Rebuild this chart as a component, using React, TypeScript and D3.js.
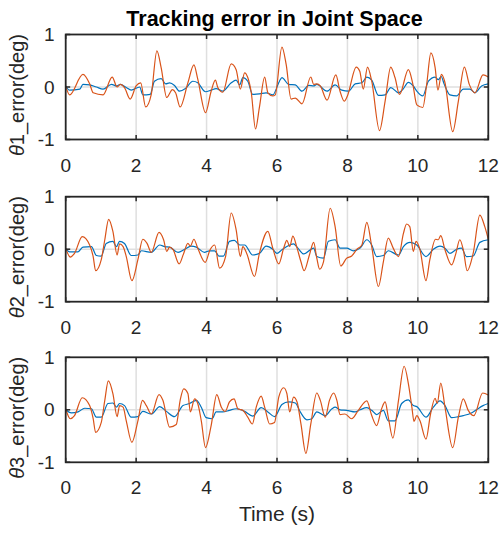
import React from 'react';
import * as d3 from 'd3';

// [time (s), error (deg)]
const joint1Blue: [number, number][] = [
  [0, 0.02], [0.11, -0.06], [0.4, -0.04], [0.49, 0.05], [0.68, 0.04], [0.87, 0.0], [1.06, -0.04],
  [1.3, 0.05], [1.44, 0.02], [1.55, 0.05], [1.72, -0.01], [1.86, -0.06], [2.1, 0.0], [2.19, -0.15],
  [2.4, -0.14], [2.52, 0.11], [2.71, 0.16], [2.84, 0.06], [2.95, 0.08], [3.09, 0.03], [3.23, -0.08],
  [3.4, -0.03], [3.61, 0.11], [3.75, 0.08], [3.97, -0.09], [4.13, -0.06], [4.27, -0.03], [4.46, -0.08],
  [4.7, 0.08], [4.84, 0.13], [4.94, 0.04], [5.03, 0.18], [5.17, 0.11], [5.31, -0.14], [5.5, -0.13],
  [5.69, -0.11], [5.88, -0.15], [6.07, 0.11], [6.14, 0.18], [6.33, 0.05], [6.52, 0.04], [6.71, -0.08],
  [6.9, 0.03], [7.04, 0.02], [7.13, 0.05], [7.42, -0.08], [7.65, 0.04], [7.84, -0.06], [8.03, -0.08],
  [8.22, 0.06], [8.41, 0.08], [8.55, 0.19], [8.69, 0.13], [8.88, -0.16], [9.07, -0.15], [9.23, -0.01],
  [9.45, -0.11], [9.58, -0.04], [9.73, 0.09], [9.87, 0.02], [9.97, -0.08], [10.14, -0.17], [10.3, 0.11],
  [10.49, 0.19], [10.58, 0.14], [10.66, 0.2], [10.75, 0.05], [10.91, -0.15], [11.1, -0.17], [11.29, -0.04],
  [11.48, -0.04], [11.62, -0.11], [11.81, 0.02], [12, 0.06],
];
const joint1Orange: [number, number][] = [
  [0, 0.02], [0.11, -0.15], [0.49, 0.24], [0.68, 0.06], [0.78, -0.11], [1.06, -0.15], [1.32, 0.19],
  [1.46, 0.0], [1.55, 0.05], [1.67, -0.01], [1.83, -0.23], [2.0, 0.02], [2.13, 0.08], [2.27, -0.38],
  [2.43, -0.14], [2.59, 0.69], [2.71, 0.37], [2.87, -0.2], [3.03, -0.05], [3.12, -0.11], [3.25, -0.38],
  [3.47, 0.08], [3.64, 0.42], [3.75, 0.15], [3.97, -0.49], [4.13, -0.08], [4.25, 0.13], [4.32, -0.01],
  [4.46, -0.1], [4.7, 0.44], [4.84, 0.33], [4.96, -0.04], [5.08, 0.27], [5.17, 0.18], [5.27, -0.11],
  [5.39, -0.8], [5.5, -0.39], [5.65, 0.19], [5.74, -0.11], [5.88, -0.17], [5.95, -0.15], [6.14, 0.76],
  [6.26, 0.43], [6.4, -0.23], [6.52, -0.21], [6.71, -0.32], [6.96, 0.19], [7.04, 0.05], [7.13, 0.06],
  [7.23, 0.02], [7.42, -0.25], [7.67, 0.23], [7.79, -0.08], [7.91, -0.27], [8.0, -0.17], [8.25, 0.38],
  [8.35, 0.3], [8.45, -0.04], [8.57, 0.38], [8.69, 0.11], [8.91, -0.83], [9.07, -0.27], [9.23, 0.38],
  [9.35, 0.18], [9.48, -0.14], [9.73, 0.33], [9.85, 0.08], [9.97, -0.34], [10.14, -0.39], [10.25, 0.05],
  [10.37, 0.65], [10.49, 0.37], [10.57, -0.06], [10.67, 0.24], [10.76, 0.11], [10.99, -0.85], [11.15, -0.27],
  [11.32, 0.38], [11.46, 0.05], [11.62, -0.11], [11.85, 0.23], [12, 0.19],
];
const joint2Blue: [number, number][] = [
  [0, 0], [0.11, -0.05], [0.35, -0.05], [0.49, 0.04], [0.73, 0.05], [0.87, -0.12], [1.01, -0.13],
  [1.15, 0.11], [1.34, 0.15], [1.44, 0.05], [1.53, 0.15], [1.67, 0.11], [1.86, -0.12], [2.05, -0.11],
  [2.15, -0.03], [2.43, -0.06], [2.67, 0.08], [2.81, 0.05], [2.95, 0.04], [3.19, -0.06], [3.38, 0.0],
  [3.56, 0.06], [3.71, 0.04], [3.94, -0.06], [4.08, -0.03], [4.23, -0.03], [4.35, -0.13], [4.48, -0.13],
  [4.65, 0.15], [4.79, 0.17], [4.94, 0.08], [5.08, 0.08], [5.31, -0.11], [5.5, -0.08], [5.69, 0.06],
  [5.88, 0.0], [6.0, -0.08], [6.14, -0.01], [6.28, 0.05], [6.47, 0.1], [6.57, 0.04], [6.76, -0.09],
  [7.04, 0.02], [7.13, -0.14], [7.32, -0.17], [7.46, 0.15], [7.65, 0.18], [7.79, 0.02], [7.98, 0.02],
  [8.17, -0.03], [8.36, 0.02], [8.55, 0.18], [8.69, 0.08], [8.83, -0.14], [9.02, -0.12], [9.16, -0.03],
  [9.45, -0.11], [9.59, 0.05], [9.78, 0.13], [9.97, 0.08], [10.23, -0.14], [10.44, 0.0], [10.63, 0.06],
  [10.77, 0.02], [10.91, -0.08], [11.1, 0.0], [11.24, 0.02], [11.38, -0.14], [11.57, -0.13], [11.76, 0.13],
  [12, 0.18],
];
const joint2Orange: [number, number][] = [
  [0, 0.02], [0.13, -0.15], [0.25, -0.08], [0.47, 0.24], [0.68, 0.08], [0.78, -0.14], [0.85, -0.41],
  [1.01, -0.2], [1.11, 0.18], [1.22, 0.57], [1.34, 0.34], [1.46, -0.11], [1.53, 0.1], [1.63, 0.05],
  [1.72, -0.14], [1.88, -0.6], [2.05, -0.2], [2.19, 0.19], [2.31, 0.11], [2.43, -0.06], [2.65, 0.32],
  [2.78, 0.18], [2.87, -0.04], [2.95, 0.04], [3.05, -0.01], [3.22, -0.28], [3.35, -0.08], [3.47, 0.11],
  [3.54, 0.06], [3.64, 0.19], [3.75, 0.02], [3.96, -0.25], [4.1, -0.01], [4.23, 0.08], [4.37, -0.36],
  [4.54, -0.14], [4.7, 0.69], [4.84, 0.37], [4.96, -0.14], [5.03, 0.05], [5.14, -0.08], [5.36, -0.52],
  [5.5, -0.08], [5.74, 0.34], [5.88, 0.02], [6.05, -0.28], [6.19, 0.02], [6.28, 0.17], [6.36, 0.05],
  [6.45, 0.25], [6.57, 0.02], [6.68, -0.24], [6.77, -0.41], [6.92, -0.11], [7.04, 0.13], [7.13, -0.17],
  [7.21, -0.38], [7.32, -0.24], [7.51, 0.78], [7.65, 0.43], [7.81, -0.32], [7.98, -0.17], [8.12, -0.13],
  [8.27, 0.0], [8.41, 0.08], [8.55, 0.51], [8.69, 0.05], [8.88, -0.71], [9.02, -0.24], [9.16, 0.21],
  [9.3, 0.02], [9.45, -0.14], [9.59, 0.3], [9.68, 0.48], [9.77, 0.43], [9.87, -0.04], [9.95, 0.15],
  [10.06, -0.01], [10.23, -0.6], [10.34, -0.2], [10.5, 0.19], [10.58, 0.18], [10.65, 0.26], [10.77, -0.01],
  [10.96, -0.3], [11.08, -0.08], [11.19, 0.18], [11.29, -0.01], [11.4, -0.41], [11.57, -0.08], [11.76, 0.65],
  [11.9, 0.43], [12, 0.19],
];
const joint3Blue: [number, number][] = [
  [0, 0], [0.16, -0.06], [0.35, -0.04], [0.54, 0.03], [0.73, 0.02], [0.87, -0.14], [1.01, -0.14],
  [1.2, 0.12], [1.34, 0.13], [1.44, 0.05], [1.53, 0.12], [1.67, 0.08], [1.86, -0.14], [2.05, -0.13],
  [2.19, -0.03], [2.43, -0.08], [2.67, 0.06], [2.86, -0.03], [3.09, -0.13], [3.33, 0.08], [3.52, 0.12],
  [3.71, 0.18], [3.85, 0.05], [3.99, -0.15], [4.16, -0.17], [4.27, -0.04], [4.46, -0.04], [4.65, -0.01],
  [4.84, 0.02], [5.08, -0.03], [5.31, -0.12], [5.55, 0.04], [5.74, -0.04], [5.93, -0.13], [6.14, 0.1],
  [6.33, 0.15], [6.52, 0.13], [6.66, -0.04], [6.85, -0.19], [6.99, -0.17], [7.13, -0.04], [7.37, -0.11],
  [7.56, 0.02], [7.65, 0.05], [7.79, 0.0], [7.98, -0.01], [8.22, -0.04], [8.36, 0.0], [8.55, 0.04],
  [8.69, -0.01], [8.83, -0.09], [9.02, -0.01], [9.16, -0.21], [9.35, -0.21], [9.54, 0.12], [9.73, 0.19],
  [9.87, 0.08], [9.97, 0.06], [10.23, -0.14], [10.44, 0.05], [10.63, 0.17], [10.77, 0.08], [10.96, -0.15],
  [11.15, -0.13], [11.29, -0.11], [11.52, -0.06], [11.66, 0.0], [11.85, 0.08], [12, 0.12],
];
const joint3Orange: [number, number][] = [
  [0, 0.02], [0.13, -0.17], [0.25, -0.11], [0.47, 0.23], [0.68, 0.08], [0.78, -0.17], [0.85, -0.43],
  [1.01, -0.24], [1.11, 0.18], [1.21, 0.55], [1.34, 0.31], [1.46, -0.13], [1.53, 0.08], [1.63, 0.05],
  [1.72, -0.21], [1.88, -0.62], [2.05, -0.21], [2.18, 0.18], [2.29, 0.08], [2.43, -0.08], [2.65, 0.29],
  [2.76, 0.18], [2.95, -0.33], [3.14, -0.28], [3.25, 0.18], [3.35, 0.4], [3.47, 0.31], [3.54, -0.04],
  [3.66, 0.21], [3.75, 0.12], [3.85, -0.21], [3.97, -0.72], [4.13, -0.3], [4.29, 0.29], [4.42, 0.05],
  [4.53, -0.03], [4.65, 0.15], [4.78, 0.21], [4.89, 0.02], [5.03, -0.01], [5.17, -0.14], [5.3, -0.27],
  [5.41, 0.05], [5.55, 0.26], [5.65, 0.05], [5.79, -0.27], [5.93, -0.24], [6.05, 0.24], [6.19, 0.42],
  [6.28, 0.31], [6.36, -0.04], [6.47, 0.24], [6.57, 0.15], [6.68, -0.27], [6.82, -0.83], [6.96, -0.27],
  [7.13, 0.32], [7.23, 0.18], [7.37, -0.14], [7.49, 0.18], [7.61, 0.32], [7.7, 0.18], [7.79, -0.09],
  [7.93, -0.08], [8.12, -0.17], [8.31, -0.01], [8.55, 0.17], [8.69, -0.11], [8.83, -0.3], [8.97, 0.02],
  [9.07, 0.15], [9.16, -0.14], [9.29, -0.54], [9.45, 0.18], [9.61, 0.83], [9.73, 0.5], [9.83, 0.05],
  [9.89, -0.22], [9.97, -0.11], [10.06, -0.21], [10.23, -0.56], [10.36, -0.08], [10.49, 0.22], [10.55, 0.12],
  [10.65, 0.51], [10.77, 0.05], [10.99, -0.72], [11.15, -0.14], [11.29, 0.21], [11.43, -0.01], [11.59, -0.11],
  [11.84, 0.32], [12, 0.28],
];

const xTicks = [0, 2, 4, 6, 8, 10, 12];
const yTicks = [-1, 0, 1];
const jointLabels = ['1', '2', '3'];

const W = 500;
const H = 533;
const left = 65.7;
const right = 488.3;
const panelTops = [34.5, 196.7, 357.3];
const panelH = 105;
const font = '"Liberation Sans", Arial, Helvetica, sans-serif';
const axisColor = '#262626';
const gridColor = '#dfdfdf';
const blue = '#0072BD';
const orange = '#D95319';

const x = d3.scaleLinear().domain([0, 12]).range([left, right]);

const Panel = ({ top, idx, blueData, orangeData }) => {
  const bottom = top + panelH;
  const y = d3.scaleLinear().domain([-1, 1]).range([bottom, top]);
  const line = d3.line<[number, number]>().x(d => x(d[0])).y(d => y(d[1])).curve(d3.curveMonotoneX);
  const clipId = 'clip' + idx;
  return (
    <g>
      <defs>
        <clipPath id={clipId}>
          <rect x={left} y={top} width={right - left} height={panelH} />
        </clipPath>
      </defs>
      {xTicks.slice(1, -1).map(t => (
        <line key={'gx' + t} x1={x(t)} x2={x(t)} y1={top} y2={bottom} stroke={gridColor} strokeWidth={1.5} />
      ))}
      <line x1={left} x2={right} y1={y(0)} y2={y(0)} stroke={gridColor} strokeWidth={1.5} />
      <g clipPath={`url(#${clipId})`} fill="none" strokeWidth={1.2} strokeLinejoin="round">
        <path d={line(blueData) || ''} stroke={blue} />
        <path d={line(orangeData) || ''} stroke={orange} />
      </g>
      <rect x={left} y={top} width={right - left} height={panelH} fill="none" stroke={axisColor} strokeWidth={1.8} />
      {xTicks.map(t => (
        <g key={'tx' + t}>
          <line x1={x(t)} x2={x(t)} y1={bottom} y2={bottom - 4.5} stroke={axisColor} strokeWidth={1.5} />
          <line x1={x(t)} x2={x(t)} y1={top} y2={top + 4.5} stroke={axisColor} strokeWidth={1.5} />
          <text x={x(t)} y={bottom + 32} textAnchor="middle" fontSize={19} fill={axisColor} fontFamily={font}>{t}</text>
        </g>
      ))}
      {yTicks.map(t => (
        <g key={'ty' + t}>
          <line x1={left} x2={left + 4.5} y1={y(t)} y2={y(t)} stroke={axisColor} strokeWidth={1.5} />
          <line x1={right} x2={right - 4.5} y1={y(t)} y2={y(t)} stroke={axisColor} strokeWidth={1.5} />
          <text x={left - 11} y={y(t)} dy="0.35em" textAnchor="end" fontSize={19} fill={axisColor} fontFamily={font}>{t}</text>
        </g>
      ))}
      <text transform={`translate(24,${(top + bottom) / 2 + 8}) rotate(-90)`} textAnchor="middle" fontSize={20} fill={axisColor} fontFamily={font}>
        <tspan fontStyle="italic">θ</tspan>{jointLabels[idx]}_error(deg)
      </text>
    </g>
  );
};

const App = () => {
  const series = [
    [joint1Blue, joint1Orange],
    [joint2Blue, joint2Orange],
    [joint3Blue, joint3Orange],
  ];
  return (
    <svg width={W} height={H} style={{ position: 'absolute', left: 0, top: 0, background: '#fff' }}>
      <rect width={W} height={H} fill="#fff" />
      <text x={274.5} y={26} textAnchor="middle" fontSize={21.5} fontWeight="bold" fill="#000" fontFamily={font}>
        Tracking error in Joint Space
      </text>
      {series.map((s, i) => (
        <Panel key={i} idx={i} top={panelTops[i]} blueData={s[0]} orangeData={s[1]} />
      ))}
      <text x={(left + right) / 2} y={521} textAnchor="middle" fontSize={21} fill={axisColor} fontFamily={font}>
        Time (s)
      </text>
    </svg>
  );
};

export default App;
